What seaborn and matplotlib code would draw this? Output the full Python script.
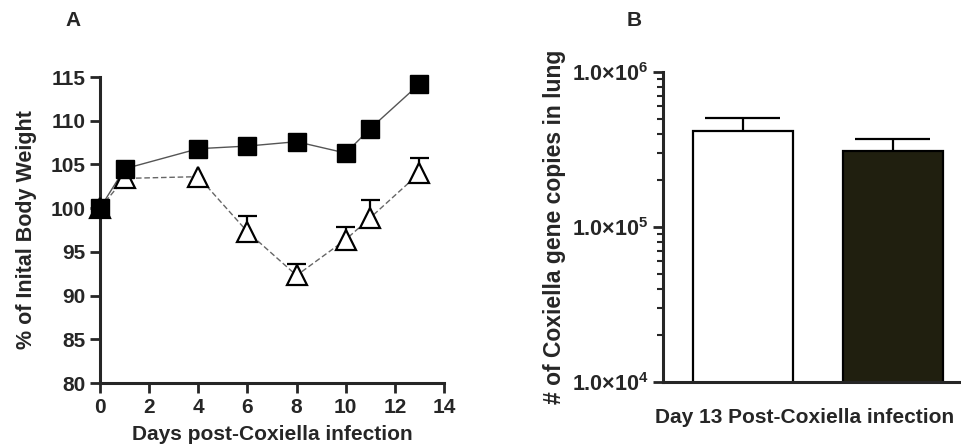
import numpy as np
import pandas as pd
import matplotlib
matplotlib.use("Agg")
import matplotlib.pyplot as plt
import seaborn as sns
from matplotlib.ticker import FixedLocator, LogLocator, NullFormatter

# ---- data ----
days = [0, 1, 4, 6, 8, 10, 11, 13]
control_weight = [100.0, 104.5, 106.8, 107.1, 107.6, 106.3, 109.1, 114.2]
infected_weight = [100.0, 103.4, 103.6, 97.3, 92.3, 96.4, 98.9, 104.0]
infected_err = [0.0, 0.3, 0.3, 1.8, 1.3, 1.4, 2.0, 1.7]

groups = ["Group 1", "Group 2"]
copies = [4.16e5, 3.09e5]
copies_err = [0.9e5, 0.61e5]

xticks_a = [0, 2, 4, 6, 8, 10, 12, 14]
yticks_a = [80, 85, 90, 95, 100, 105, 110, 115]
yticks_b = [1e4, 1e5, 1e6]
yticklabels_b = ["1.0×10$^{4}$", "1.0×10$^{5}$", "1.0×10$^{6}$"]

sns.set_style("ticks")
plt.rcParams['font.family'] = ['Liberation Sans', 'DejaVu Sans']
plt.rcParams['font.weight'] = 'bold'
plt.rcParams['mathtext.fontset'] = 'custom'
plt.rcParams['mathtext.rm'] = 'Liberation Sans:bold'
plt.rcParams['mathtext.it'] = 'Liberation Sans:bold'
plt.rcParams['mathtext.bf'] = 'Liberation Sans:bold'

fig = plt.figure(figsize=(9.62, 4.48), dpi=100)
axA = fig.add_axes([100/962, 1-383/448, (444-100)/962, (383-77)/448])
axB = fig.add_axes([663/962, 1-382/448, (962-663)/962, (382-72)/448])

# ---- Panel A ----
dfA = pd.DataFrame({
    "day": days * 2,
    "weight": control_weight + infected_weight,
    "group": ["control"] * len(days) + ["infected"] * len(days),
})
sns.lineplot(data=dfA[dfA.group == "infected"], x="day", y="weight", ax=axA,
             color="#666666", lw=1.0, linestyle=(0, (4, 2)), legend=False, zorder=2)
sns.lineplot(data=dfA[dfA.group == "control"], x="day", y="weight", ax=axA,
             color="#555555", lw=1.0, legend=False, zorder=2)
upper = np.array(infected_weight) + np.array(infected_err)
has_err = np.array(infected_err) > 0.5
d_arr = np.array(days, dtype=float)
axA.vlines(d_arr[has_err], np.array(infected_weight)[has_err], upper[has_err],
           color="black", lw=1.6, zorder=3)
axA.hlines(upper[has_err], d_arr[has_err] - 0.38, d_arr[has_err] + 0.38,
           color="black", lw=1.6, zorder=3)
axA.plot(days, infected_weight, linestyle="none", marker="^", markersize=15,
         markerfacecolor="white", markeredgecolor="black", markeredgewidth=1.6, zorder=4)
axA.plot(days, control_weight, linestyle="none", marker="s", markersize=12.5,
         markerfacecolor="black", markeredgecolor="black", zorder=5)

axA.set_xlim(0, 14)
axA.set_ylim(80, 115)
axA.xaxis.set_major_locator(FixedLocator(xticks_a))
axA.yaxis.set_major_locator(FixedLocator(yticks_a))
axA.set_xticklabels([str(t) for t in xticks_a])
axA.set_yticklabels([str(t) for t in yticks_a])
axA.tick_params(axis="both", labelsize=15, width=2, length=7, direction="out")
axA.set_xlabel("Days post-Coxiella infection", fontsize=15, fontweight="bold", labelpad=6)
axA.set_ylabel("% of Inital Body Weight", fontsize=15.5, fontweight="bold", labelpad=10)
for s in ["left", "bottom"]:
    axA.spines[s].set_linewidth(2.2)
axA.spines["top"].set_visible(False)
axA.spines["right"].set_visible(False)
for art in axA.lines + axA.collections:
    art.set_clip_on(False)

# ---- Panel B ----
dfB = pd.DataFrame({"group": groups, "copies": copies})
sns.barplot(data=dfB, x="group", y="copies", hue="group",
            palette=["white", "#23220c"], edgecolor="black", linewidth=1.6,
            width=0.667, ax=axB, legend=False, errorbar=None)
upB = np.array(copies) + np.array(copies_err)
axB.vlines([0, 1], copies, upB, color="black", lw=1.6, zorder=3)
axB.hlines(upB, np.array([0, 1]) - 0.25, np.array([0, 1]) + 0.25,
           color="black", lw=1.6, zorder=3)
axB.set_yscale("log")
axB.set_ylim(1e4, 1e6)
axB.set_xlim(-0.533, 1.46)
axB.yaxis.set_major_locator(FixedLocator(yticks_b))
axB.set_yticklabels(yticklabels_b)
axB.yaxis.set_minor_locator(LogLocator(base=10, subs=np.arange(2, 10)))
axB.yaxis.set_minor_formatter(NullFormatter())
axB.tick_params(axis="y", which="major", labelsize=15.5, width=2, length=7)
axB.tick_params(axis="y", which="minor", width=1.5, length=4)
axB.tick_params(axis="x", bottom=False, labelbottom=False)
axB.set_xlabel("Day 13 Post-Coxiella infection", fontsize=15, fontweight="bold")
axB.xaxis.set_label_coords(0.475, -0.085)
axB.set_ylabel("# of Coxiella gene copies in lung", fontsize=16.5, fontweight="bold", labelpad=4)
for s in ["left", "bottom"]:
    axB.spines[s].set_linewidth(2.2)
axB.spines["top"].set_visible(False)
axB.spines["right"].set_visible(False)

fig.text(65/962, 1-21/448, "A", fontsize=15, fontweight="bold", va="center", ha="left")
fig.text(627/962, 1-21/448, "B", fontsize=15, fontweight="bold", va="center", ha="left")

fig.savefig("out.png", dpi=100)
